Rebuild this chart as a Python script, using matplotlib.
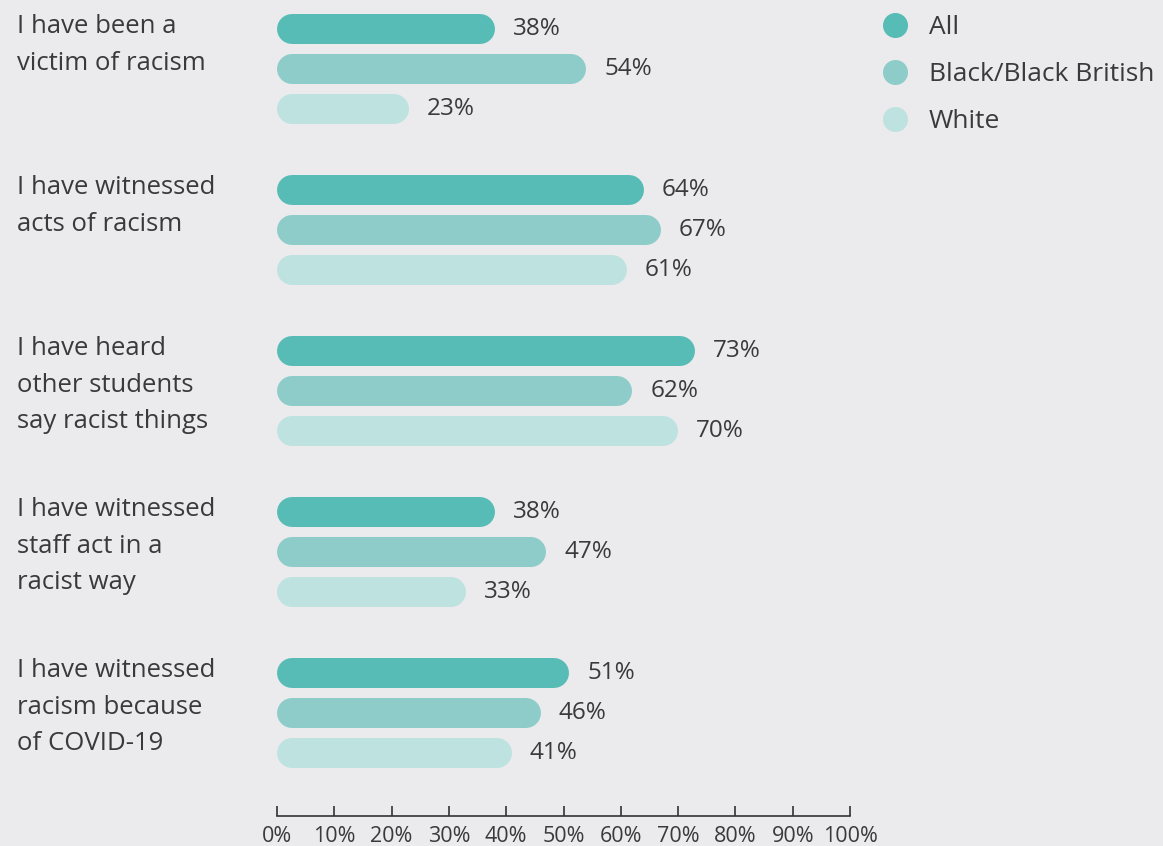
import matplotlib.pyplot as plt
from matplotlib.lines import Line2D
from matplotlib.transforms import blended_transform_factory
import numpy as np

plt.rcParams['font.family'] = ['Open Sans', 'DejaVu Sans']

categories = ["I have been a\nvictim of racism",
              "I have witnessed\nacts of racism",
              "I have heard\nother students\nsay racist things",
              "I have witnessed\nstaff act in a\nracist way",
              "I have witnessed\nracism because\nof COVID-19"]
series = ["All", "Black/Black British", "White"]
all_vals = [38, 64, 73, 38, 51]
black_vals = [54, 67, 62, 47, 46]
white_vals = [23, 61, 70, 33, 41]
colors = ['#57bcb6', '#8dccc8', '#bde2e0']

bg = '#ebebed'
txt = '#3a3a3a'

fig = plt.figure(figsize=(11.63, 8.46), dpi=100, facecolor=bg)
ax = fig.add_axes([277 / 1163, 30 / 846, 573 / 1163, 1 - 30 / 846])
ax.set_facecolor(bg)
ax.set_xlim(0, 100)
ax.set_ylim(4.64, -0.43)

bar_px = 30
lw = bar_px * 72 / 100
r = (bar_px / 2) / 5.73  # cap radius in data units
offsets = [-0.25, 0, 0.25]

for s, vals in enumerate([all_vals, black_vals, white_vals]):
    for i, v in enumerate(vals):
        y = i + offsets[s]
        ax.plot([r, v - r], [y, y], color=colors[s], lw=lw,
                solid_capstyle='round')
        ax.annotate(f"{v}%", (v, y), xytext=(13, 0), textcoords='offset points',
                    va='center', ha='left', fontsize=17.5, color=txt)

trans = blended_transform_factory(fig.transFigure, ax.transData)
for i, c in enumerate(categories):
    ax.text(17 / 1163, i - 0.25 - 0.09, c, transform=trans,
            ha='left', va='top', fontsize=18.5, color=txt, linespacing=1.6)

for sp in ['top', 'right', 'left']:
    ax.spines[sp].set_visible(False)
ax.spines['bottom'].set_color('#333333')
ax.spines['bottom'].set_linewidth(1.2)
ax.set_yticks([])
ax.set_xticks(np.arange(0, 101, 10))
ax.set_xticklabels([f"{t}%" for t in range(0, 101, 10)])
ax.tick_params(axis='x', direction='in', length=7, width=1.2, color='#333333',
               labelsize=15.5, labelcolor=txt, pad=7)

handles = [Line2D([], [], marker='o', ls='', markersize=17, color=c) for c in colors]
fig.legend(handles, series, loc='upper left', bbox_to_anchor=(855 / 1163, 1.01),
           frameon=False, fontsize=19, labelcolor=txt, handletextpad=0.7,
           labelspacing=0.83, handlelength=1.2)

fig.savefig('out.png', dpi=100, facecolor=bg)
